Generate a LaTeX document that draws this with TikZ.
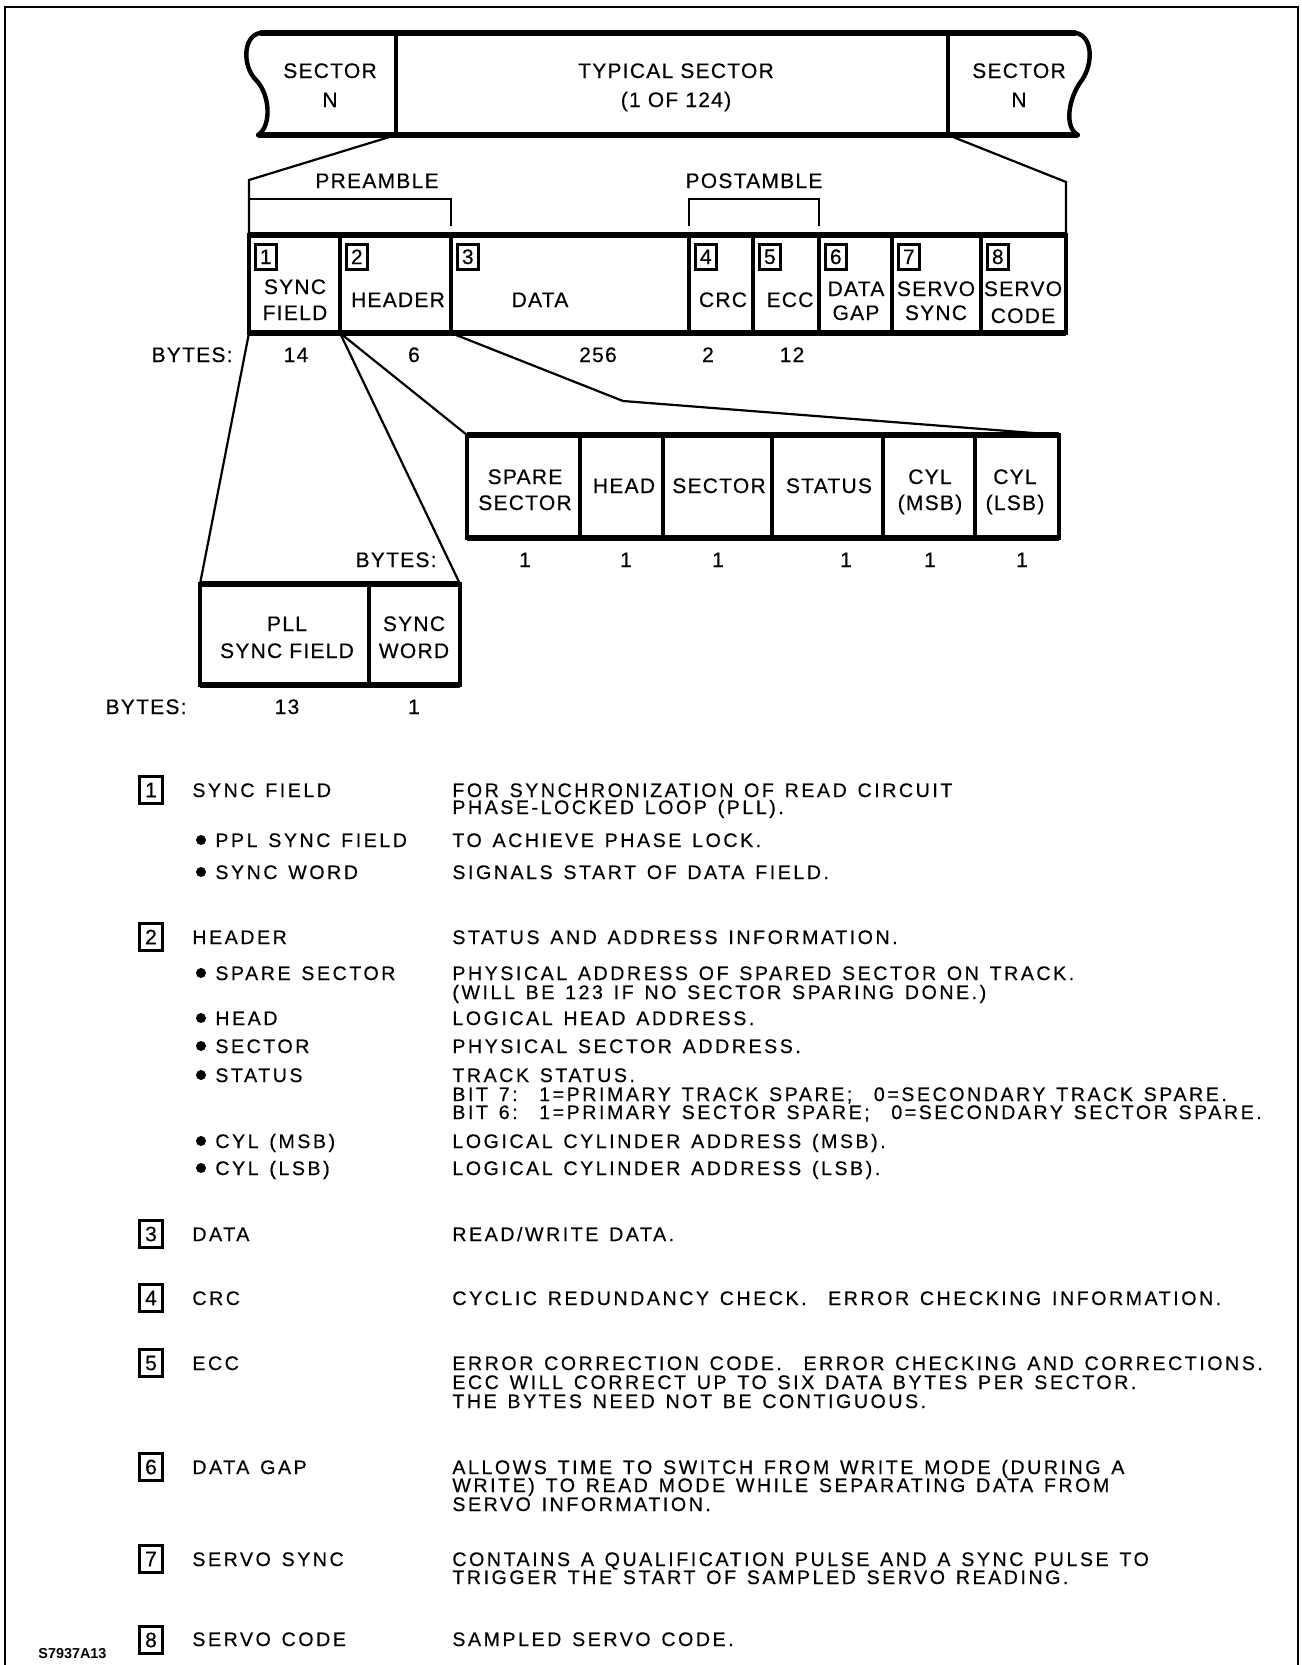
\documentclass[tikz,border=0pt]{standalone}
\usepackage{fontspec}
\setmainfont{Liberation Sans}
\newfontfamily\lblfont{Liberation Sans}[LetterSpace=6,FakeBold=0.4]
\newfontfamily\lgdfont{Liberation Sans}[LetterSpace=13,FakeBold=0.4,WordSpace=1.35]
\usetikzlibrary{fit}
\tikzset{
  lbl/.style={font=\lblfont\fontsize{10.5}{12}\selectfont, inner sep=0pt, anchor=base},
  lgd/.style={font=\lgdfont\fontsize{9.8}{11}\selectfont, inner sep=0pt, anchor=base west},
  cell/.style={draw, line width=1.7pt, inner sep=0pt, outer sep=0pt},
  heavy/.style={line width=2.6pt},
  fan/.style={line width=1.1pt},
  frameline/.style={line width=1.1pt},
  wavy/.style={line width=2.2pt, line cap=round},
  numbox/.style={draw, line width=1.3pt, minimum width=10.5pt, minimum height=12.5pt, inner sep=0pt, anchor=north west, font=\lblfont\fontsize{10.5}{12}\selectfont},
  lgbox/.style={draw, line width=1.3pt, minimum width=11.5pt, minimum height=13.5pt, inner sep=0pt, font=\lblfont\fontsize{10.5}{12}\selectfont},
  dot/.style={circle, fill, inner sep=0pt, minimum size=5pt},
}
\begin{document}
\begin{tikzpicture}[x=0.5pt,y=-0.5pt]
\useasboundingbox (0,0) rectangle (1301,1665);
\fill[white] (0,0) rectangle (1301,1665);
% frame
\draw[frameline] (5,1665) -- (5,7) -- (1298,7) -- (1298,1665);

% ---------- top band ----------
\node[cell, fit={(396,33) (948,135)}] (ts) {};
\draw[heavy] (260,33) -- (1076,33);
\draw[heavy] (258,135) -- (1078,135);
\draw[wavy] (260,33) .. controls (243,36) and (242,66) .. (256,80) .. controls (270,94) and (272,126) .. (258,135);
\draw[wavy] (1076,33) .. controls (1092,36) and (1094,62) .. (1082,80) .. controls (1068,98) and (1064,128) .. (1078,135);
\node[lbl] (sl1) at (330,78) {SECTOR};
\node[lbl] (sl2) at (330,107) {N};
\node[lbl] (tt1) at (676,78) {TYPICAL SECTOR};
\node[lbl] (tt2) at (676,107) {(1 OF 124)};
\node[lbl] (sr1) at (1019,78) {SECTOR};
\node[lbl] (sr2) at (1019,107) {N};

% ---------- main row ----------
\node[cell, fit={(249,235) (340,333)}] (f1) {};
\node[cell, fit={(340,235) (451,333)}] (f2) {};
\node[cell, fit={(451,235) (689,333)}] (f3) {};
\node[cell, fit={(689,235) (753,333)}] (f4) {};
\node[cell, fit={(753,235) (819,333)}] (f5) {};
\node[cell, fit={(819,235) (892,333)}] (f6) {};
\node[cell, fit={(892,235) (981,333)}] (f7) {};
\node[cell, fit={(981,235) (1066,333)}] (f8) {};
\draw[heavy] (f1.north west) -- (f8.north east);
\draw[heavy] (f1.south west) -- (f8.south east);

\node[numbox] (b1) at (254,243) {1};
\node[numbox] (b2) at (345,243) {2};
\node[numbox] (b3) at (456,243) {3};
\node[numbox] (b4) at (694,243) {4};
\node[numbox] (b5) at (758,243) {5};
\node[numbox] (b6) at (824,243) {6};
\node[numbox] (b7) at (897,243) {7};
\node[numbox] (b8) at (986,243) {8};

\node[lbl] (t1a) at (295,294) {SYNC};
\node[lbl] (t1b) at (295,320) {FIELD};
\node[lbl] (t2) at (398,307) {HEADER};
\node[lbl] (t3) at (540,307) {DATA};
\node[lbl] (t4) at (723,307) {CRC};
\node[lbl] (t5) at (790,307) {ECC};
\node[lbl] (t6a) at (856,296) {DATA};
\node[lbl] (t6b) at (856,320) {GAP};
\node[lbl] (t7a) at (936,296) {SERVO};
\node[lbl] (t7b) at (936,320) {SYNC};
\node[lbl] (t8a) at (1023,296) {SERVO};
\node[lbl] (t8b) at (1023,323) {CODE};

% fan from band to row
\coordinate (kL) at (249,180);
\coordinate (kR) at (1066,182);
\draw[fan] (ts.south west) -- (kL) -- (f1.north west);
\draw[fan] (ts.south east) -- (kR) -- (f8.north east);

% preamble / postamble brackets
\node[lbl] (pre) at (377,188) {PREAMBLE};
\node[lbl] (post) at (754,188) {POSTAMBLE};
\coordinate (preL) at (249,199);
\coordinate (preR) at (451,199);
\coordinate (preE) at (451,226);
\draw[fan] (preL) -- (preR) -- (preE);
\coordinate (poA) at (689,226);
\coordinate (poB) at (689,199);
\coordinate (poC) at (819,199);
\coordinate (poD) at (819,226);
\draw[fan] (poA) -- (poB) -- (poC) -- (poD);

% bytes row
\node[lbl, anchor=base east] (by1) at (233,362) {BYTES:};
\node[lbl] (n14) at (296,362) {14};
\node[lbl] (n6) at (414,362) {6};
\node[lbl] (n256) at (598,362) {256};
\node[lbl] (n2) at (708,362) {2};
\node[lbl] (n12) at (792,362) {12};

% ---------- header sub-row ----------
\node[cell, fit={(467,435) (580,538)}] (h1) {};
\node[cell, fit={(580,435) (663,538)}] (h2) {};
\node[cell, fit={(663,435) (772,538)}] (h3) {};
\node[cell, fit={(772,435) (883,538)}] (h4) {};
\node[cell, fit={(883,435) (975,538)}] (h5) {};
\node[cell, fit={(975,435) (1059,538)}] (h6) {};
\draw[heavy] (h1.north west) -- (h6.north east);
\draw[heavy] (h1.south west) -- (h6.south east);
\node[lbl] (u1a) at (525,484) {SPARE};
\node[lbl] (u1b) at (525,510) {SECTOR};
\node[lbl] (u2) at (624,493) {HEAD};
\node[lbl] (u3) at (719,493) {SECTOR};
\node[lbl] (u4) at (829,493) {STATUS};
\node[lbl] (u5a) at (930,484) {CYL};
\node[lbl] (u5b) at (930,510) {(MSB)};
\node[lbl] (u6a) at (1015,484) {CYL};
\node[lbl] (u6b) at (1015,510) {(LSB)};
\coordinate (hk) at (623,401);
\draw[fan] (f2.south west) -- (h1.north west);
\draw[fan] (f2.south east) -- (hk) -- (h6.north east);
\node[lbl, anchor=base east] (by2) at (437,567) {BYTES:};
\node[lbl] (v1) at (525,567) {1};
\node[lbl] (v2) at (626,567) {1};
\node[lbl] (v3) at (718,567) {1};
\node[lbl] (v4) at (846,567) {1};
\node[lbl] (v5) at (930,567) {1};
\node[lbl] (v6) at (1022,567) {1};

% ---------- sync sub-row ----------
\node[cell, fit={(200,584) (369,685)}] (s1) {};
\node[cell, fit={(369,584) (460,685)}] (s2) {};
\draw[heavy] (s1.north west) -- (s2.north east);
\draw[heavy] (s1.south west) -- (s2.south east);
\node[lbl] (w1a) at (287,631) {PLL};
\node[lbl] (w1b) at (287,658) {SYNC FIELD};
\node[lbl] (w2a) at (414,631) {SYNC};
\node[lbl] (w2b) at (414,658) {WORD};
\draw[fan] (f1.south west) -- (s1.north west);
\draw[fan] (f1.south east) -- (s2.north east);
\node[lbl, anchor=base east] (by3) at (187,714) {BYTES:};
\node[lbl] (x13) at (287,714) {13};
\node[lbl] (x1) at (414,714) {1};

% ---------- legend ----------
\node[lgbox] (k1) at (151,790) {1};
\node[lgd] (l1) at (192,797) {SYNC FIELD};
\node[lgd] (d1a) at (452,797) {FOR SYNCHRONIZATION OF READ CIRCUIT};
\node[lgd] (d1b) at (452,814) {PHASE-LOCKED LOOP (PLL).};
\node[dot] (p1) at (201,840) {};
\node[lgd] (l1p) at (215,847) {PPL SYNC FIELD};
\node[lgd] (d1p) at (452,847) {TO ACHIEVE PHASE LOCK.};
\node[dot] (p2) at (201,872) {};
\node[lgd] (l1w) at (215,879) {SYNC WORD};
\node[lgd] (d1w) at (452,879) {SIGNALS START OF DATA FIELD.};

\node[lgbox] (k2) at (151,937) {2};
\node[lgd] (l2) at (192,944) {HEADER};
\node[lgd] (d2) at (452,944) {STATUS AND ADDRESS INFORMATION.};
\node[dot] (p3) at (201,973) {};
\node[lgd] (l2a) at (215,980) {SPARE SECTOR};
\node[lgd] (d2a) at (452,980) {PHYSICAL ADDRESS OF SPARED SECTOR ON TRACK.};
\node[lgd] (d2a2) at (452,999) {(WILL BE 123 IF NO SECTOR SPARING DONE.)};
\node[dot] (p4) at (201,1018) {};
\node[lgd] (l2b) at (215,1025) {HEAD};
\node[lgd] (d2b) at (452,1025) {LOGICAL HEAD ADDRESS.};
\node[dot] (p5) at (201,1046) {};
\node[lgd] (l2c) at (215,1053) {SECTOR};
\node[lgd] (d2c) at (452,1053) {PHYSICAL SECTOR ADDRESS.};
\node[dot] (p6) at (201,1075) {};
\node[lgd] (l2d) at (215,1082) {STATUS};
\node[lgd] (d2d) at (452,1082) {TRACK STATUS.};
\node[lgd] (d2d2) at (452,1101) {BIT 7:\ \ 1=PRIMARY TRACK SPARE;\ \ 0=SECONDARY TRACK SPARE.};
\node[lgd] (d2d3) at (452,1119) {BIT 6:\ \ 1=PRIMARY SECTOR SPARE;\ \ 0=SECONDARY SECTOR SPARE.};
\node[dot] (p7) at (201,1141) {};
\node[lgd] (l2e) at (215,1148) {CYL (MSB)};
\node[lgd] (d2e) at (452,1148) {LOGICAL CYLINDER ADDRESS (MSB).};
\node[dot] (p8) at (201,1168) {};
\node[lgd] (l2f) at (215,1175) {CYL (LSB)};
\node[lgd] (d2f) at (452,1175) {LOGICAL CYLINDER ADDRESS (LSB).};

\node[lgbox] (k3) at (151,1234) {3};
\node[lgd] (l3) at (192,1241) {DATA};
\node[lgd] (d3) at (452,1241) {READ/WRITE DATA.};

\node[lgbox] (k4) at (151,1298) {4};
\node[lgd] (l4) at (192,1305) {CRC};
\node[lgd] (d4) at (452,1305) {CYCLIC REDUNDANCY CHECK.\ \ ERROR CHECKING INFORMATION.};

\node[lgbox] (k5) at (151,1363) {5};
\node[lgd] (l5) at (192,1370) {ECC};
\node[lgd] (d5a) at (452,1370) {ERROR CORRECTION CODE.\ \ ERROR CHECKING AND CORRECTIONS.};
\node[lgd] (d5b) at (452,1389) {ECC WILL CORRECT UP TO SIX DATA BYTES PER SECTOR.};
\node[lgd] (d5c) at (452,1408) {THE BYTES NEED NOT BE CONTIGUOUS.};

\node[lgbox] (k6) at (151,1467) {6};
\node[lgd] (l6) at (192,1474) {DATA GAP};
\node[lgd] (d6a) at (452,1474) {ALLOWS TIME TO SWITCH FROM WRITE MODE (DURING A};
\node[lgd] (d6b) at (452,1492) {WRITE) TO READ MODE WHILE SEPARATING DATA FROM};
\node[lgd] (d6c) at (452,1511) {SERVO INFORMATION.};

\node[lgbox] (k7) at (151,1559) {7};
\node[lgd] (l7) at (192,1566) {SERVO SYNC};
\node[lgd] (d7a) at (452,1566) {CONTAINS A QUALIFICATION PULSE AND A SYNC PULSE TO};
\node[lgd] (d7b) at (452,1584) {TRIGGER THE START OF SAMPLED SERVO READING.};

\node[lgbox] (k8) at (151,1640) {8};
\node[lgd] (l8) at (192,1646) {SERVO CODE};
\node[lgd] (d8) at (452,1646) {SAMPLED SERVO CODE.};

\node[inner sep=0pt, anchor=base west, font=\bfseries\fontsize{7.2}{9}\selectfont] (fig) at (38,1658) {S7937A13};
\end{tikzpicture}
\end{document}
